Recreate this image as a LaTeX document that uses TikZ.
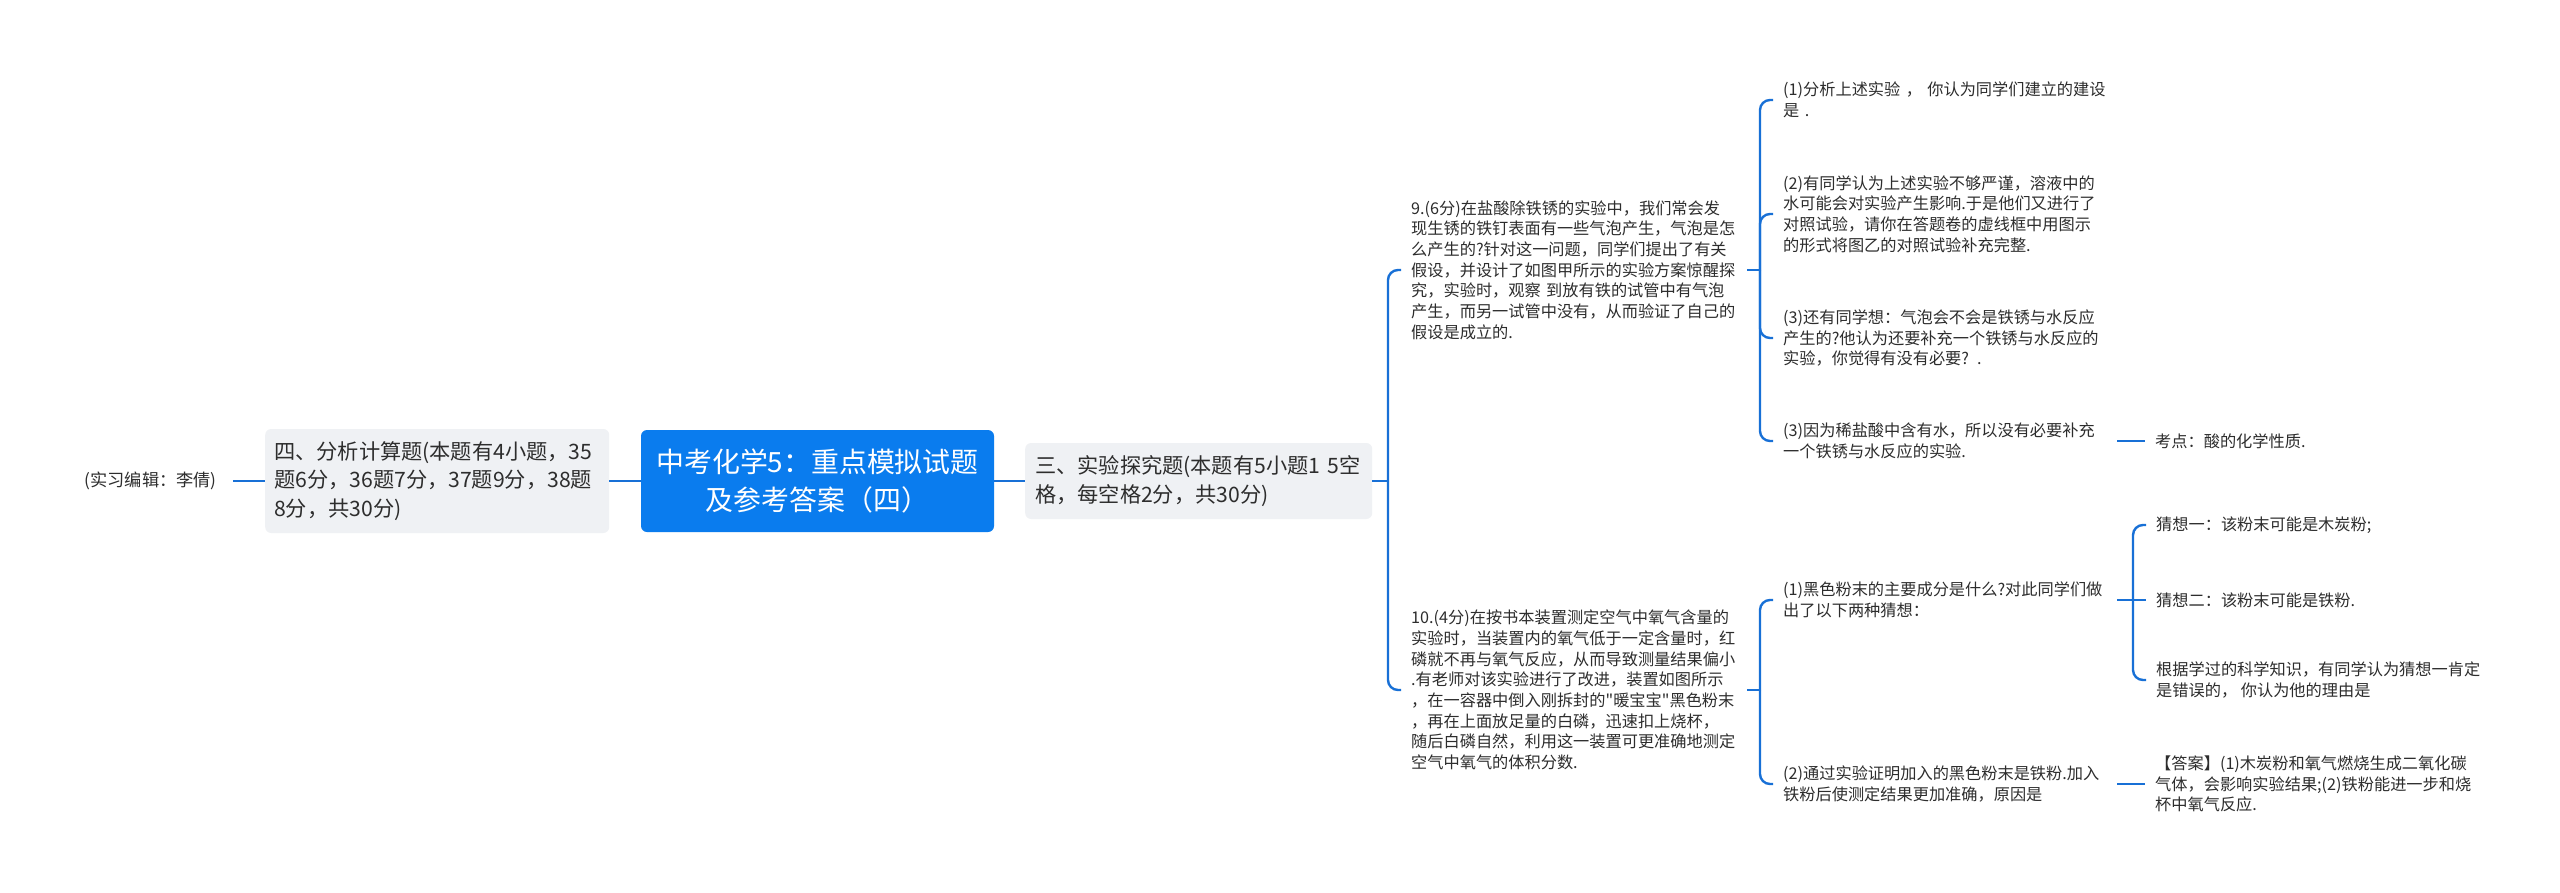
\documentclass[tikz,border=0pt]{standalone}
\usepackage{fontspec}
\setmainfont{Noto Sans CJK SC}
\newfontfamily\qfont{Noto Sans CJK SC}
\definecolor{linec}{RGB}{24,112,214}
\definecolor{rootc}{RGB}{10,124,238}
\definecolor{grayc}{RGB}{239,241,244}
\definecolor{txt}{RGB}{45,45,45}
\newcommand{\sq}{{\qfont "}}
\tikzset{
  conn/.style={draw=linec, line width=2.4pt, rounded corners=10pt},
  small/.style={font=\fontsize{16.2pt}{20.7pt}\selectfont, text=txt, align=left, inner xsep=10pt, inner ysep=0pt, anchor=west},
  midbox/.style={fill=grayc, rounded corners=6pt, font=\fontsize{21.2pt}{28.5pt}\selectfont, text=txt, align=left, anchor=west, inner ysep=0pt},
  rootbox/.style={fill=rootc, rounded corners=6pt, font=\fontsize{27.9pt}{38pt}\selectfont, text=white, align=center, inner sep=0pt, minimum width=353pt, minimum height=102pt}
}
\begin{document}
\begin{tikzpicture}[x=1pt,y=-1pt]
\useasboundingbox (0,0) rectangle (2560,892);
\fill[white] (0,0) rectangle (2560,892);

% main nodes
\node[small, font=\fontsize{17.2pt}{21pt}\selectfont, anchor=east, inner xsep=16pt] (ed) at (233,481) {(实习编辑：李倩)};
\node[midbox, text width=326pt, inner xsep=9pt, minimum height=104pt] (q4) at (265,481)
  {四、分析计算题(本题有4小题，35\\题6分，36题7分，37题9分，38题\\8分，共30分)};
\node[rootbox] (root) at (817.5,481) {中考化学5：重点模拟试题\\及参考答案（四）};
\node[midbox, text width=327pt, inner xsep=10pt, minimum height=76pt] (q3) at (1025,481)
  {三、实验探究题(本题有5小题1 5空\\格，每空格2分，共30分)};

% level 2
\node[small, text width=326pt] (q9) at (1401,270)
  {9.(6分)在盐酸除铁锈的实验中，我们常会发\\现生锈的铁钉表面有一些气泡产生，气泡是怎\\么产生的?针对这一问题，同学们提出了有关\\假设，并设计了如图甲所示的实验方案惊醒探\\究，实验时，观察 到放有铁的试管中有气泡\\产生，而另一试管中没有，从而验证了自己的\\假设是成立的.};
\node[small, text width=326pt] (q10) at (1401,690)
  {10.(4分)在按书本装置测定空气中氧气含量的\\实验时，当装置内的氧气低于一定含量时，红\\磷就不再与氧气反应，从而导致测量结果偏小\\.有老师对该实验进行了改进，装置如图所示\\，在一容器中倒入刚拆封的\sq 暖宝宝\sq 黑色粉末\\，再在上面放足量的白磷，迅速扣上烧杯，\\随后白磷自然，利用这一装置可更准确地测定\\空气中氧气的体积分数.};

% level 3 (Q9)
\node[small, text width=324pt] (c1) at (1773,100)
  {(1)分析上述实验 ， 你认为同学们建立的建设\\是 .};
\node[small, text width=324pt] (c2) at (1773,214)
  {(2)有同学认为上述实验不够严谨，溶液中的\\水可能会对实验产生影响.于是他们又进行了\\对照试验，请你在答题卷的虚线框中用图示\\的形式将图乙的对照试验补充完整.};
\node[small, text width=324pt] (c3) at (1773,338)
  {(3)还有同学想：气泡会不会是铁锈与水反应\\产生的?他认为还要补充一个铁锈与水反应的\\实验，你觉得有没有必要? .};
\node[small, text width=324pt] (c4) at (1773,441)
  {(3)因为稀盐酸中含有水，所以没有必要补充\\一个铁锈与水反应的实验.};
\node[small] (kd) at (2145,441) {考点：酸的化学性质.};

% level 3 (Q10)
\node[small, text width=324pt] (d1) at (1773,600)
  {(1)黑色粉末的主要成分是什么?对此同学们做\\出了以下两种猜想：};
\node[small, text width=324pt] (d2) at (1773,784)
  {(2)通过实验证明加入的黑色粉末是铁粉.加入\\铁粉后使测定结果更加准确，原因是};
\node[small] (g1) at (2146,525) {猜想一：该粉末可能是木炭粉;};
\node[small] (g2) at (2146,600) {猜想二：该粉末可能是铁粉.};
\node[small] (g3) at (2146,680) {根据学过的科学知识，有同学认为猜想一肯定\\是错误的， 你认为他的理由是};
\node[small] (ans) at (2145,784) {【答案】(1)木炭粉和氧气燃烧生成二氧化碳\\气体，会影响实验结果;(2)铁粉能进一步和烧\\杯中氧气反应.};

% bracket points
\coordinate (b1) at (1388,481);
\coordinate (b2) at (1760,270);
\coordinate (b3) at (1760,690);
\coordinate (b4) at (2133,600);

% connectors
\draw[conn] (ed.east) -- (q4.west);
\draw[conn] (q4.east) -- (root.west);
\draw[conn] (root.east) -- (q3.west);
\draw[conn] (q3.east) -- (b1);
\draw[conn] (b1) |- (q9.west);
\draw[conn] (b1) |- (q10.west);
\draw[conn] (q9.east) -- (b2);
\draw[conn] (b2) |- (c1.west);
\draw[conn] (b2) |- (c2.west);
\draw[conn] (b2) |- (c3.west);
\draw[conn] (b2) |- (c4.west);
\draw[conn] (c4.east) -- (kd.west);
\draw[conn] (q10.east) -- (b3);
\draw[conn] (b3) |- (d1.west);
\draw[conn] (b3) |- (d2.west);
\draw[conn] (d1.east) -- (b4);
\draw[conn] (b4) |- (g1.west);
\draw[conn] (b4) -- (g2.west);
\draw[conn] (b4) |- (g3.west);
\draw[conn] (d2.east) -- (ans.west);
\end{tikzpicture}
\end{document}
